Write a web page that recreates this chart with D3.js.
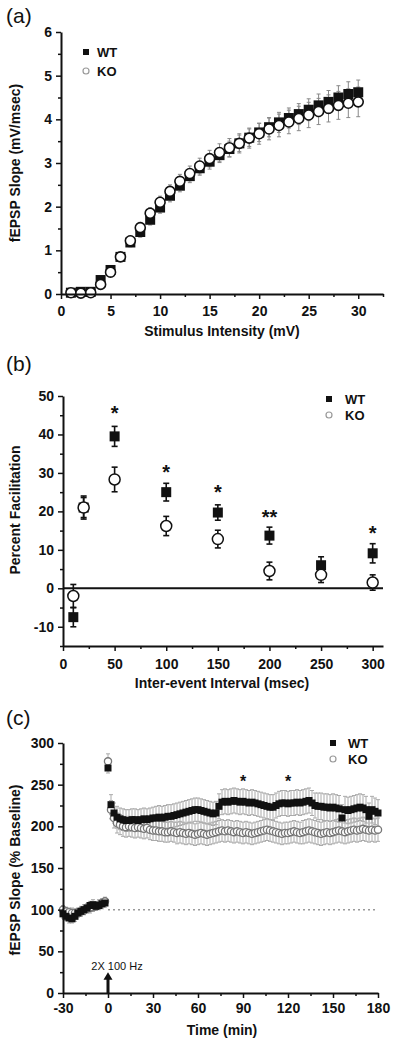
<!DOCTYPE html>
<html><head><meta charset="utf-8">
<script src="https://cdn.jsdelivr.net/npm/d3@7/dist/d3.min.js"></script>
<style>
body{margin:0;background:#fff;}
svg{display:block;font-family:"Liberation Sans",Arial,sans-serif;}
</style></head><body>
<svg id="fig" width="400" height="1042"></svg>
<script>
// ---------- Panel (a) data ----------
const aIntensity = [1,2,3,4,5,6,7,8,9,10,11,12,13,14,15,16,17,18,19,20,21,22,23,24,25,26,27,28,29,30];
const aWT    = [0.03,0.05,0.05,0.32,0.55,0.85,1.18,1.42,1.70,1.98,2.25,2.48,2.70,2.88,3.03,3.18,3.32,3.45,3.58,3.70,3.82,3.93,4.03,4.12,4.22,4.32,4.40,4.50,4.58,4.62];
const aWTerr = [0.02,0.03,0.03,0.06,0.08,0.10,0.10,0.12,0.12,0.13,0.14,0.14,0.15,0.16,0.17,0.17,0.18,0.19,0.20,0.21,0.22,0.23,0.23,0.24,0.25,0.26,0.26,0.27,0.28,0.28];
const aKO    = [0.03,0.02,0.03,0.22,0.50,0.85,1.22,1.52,1.85,2.10,2.35,2.58,2.76,2.93,3.10,3.24,3.35,3.45,3.57,3.67,3.78,3.86,3.94,4.02,4.10,4.18,4.25,4.32,4.37,4.40];
const aKOerr = [0.02,0.03,0.03,0.06,0.08,0.10,0.11,0.12,0.13,0.14,0.15,0.16,0.17,0.18,0.19,0.20,0.21,0.22,0.23,0.24,0.25,0.26,0.27,0.28,0.29,0.30,0.31,0.32,0.33,0.34];
const aXTicks = [0,5,10,15,20,25,30];
const aXMinor = [2.5,7.5,12.5,17.5,22.5,27.5,32.5];
const aYTicks = [0,1,2,3,4,5,6];
const aYMinor = [0.5,1.5,2.5,3.5,4.5,5.5];

// ---------- Panel (b) data ----------
const bInterval = [10,20,50,100,150,200,250,300];
const bWT    = [-7.5,21.0,39.5,25.0,19.7,13.7,6.0,9.1];
const bWTerr = [2.5,2.6,2.6,2.3,2.0,2.2,2.2,2.5];
const bKO    = [-2.0,21.0,28.3,16.2,12.8,4.5,3.5,1.5];
const bKOerr = [3.0,3.0,3.2,2.5,2.3,2.3,2.0,2.0];
const bStars = [{x:50,y:46.7,t:"*"},{x:100,y:31.3,t:"*"},{x:150,y:26,t:"*"},{x:200,y:19.5,t:"**"},{x:300,y:15.5,t:"*"}];
const bXTicks = [0,50,100,150,200,250,300];
const bXMinor = [25,75,125,175,225,275];
const bYTicks = [-10,0,10,20,30,40,50];
const bYMinor = [-15,-5,5,15,25,35,45];

// ---------- Panel (c) data ----------
const cTime = [-30,-28,-26,-24,-22,-20,-18,-16,-14,-12,-10,-8,-6,-4,-2,
  0,2,4,6,8,10,12,14,16,18,20,22,24,26,28,30,32,34,36,38,40,42,44,46,48,50,52,54,56,58,
  60,62,64,66,68,70,72,74,76,78,80,82,84,86,88,90,92,94,96,98,100,102,104,106,108,110,112,114,116,118,
  120,122,124,126,128,130,132,134,136,138,140,142,144,146,148,150,152,154,156,158,160,162,164,166,168,170,172,174,176,178,180];
const cWT = [95,92,90,89,92,96,98,100,102,105,106,104,105,107,108,
  270,226,216,211,209,208,207,207,208,208,
  207,208,209,208,209,210,210,211,210,211,
  212,212,213,214,215,216,217,218,219,220,
  220,219,218,217,216,215,216,224,229,230,
  229,230,231,230,229,230,229,228,229,228,
  227,226,225,224,223,223,225,227,228,228,
  227,228,228,229,228,229,230,231,228,225,
  224,224,223,223,222,223,222,221,210,220,
  219,220,221,222,223,222,220,212,220,218,
  216];
const cWTerr = [5,5,6,5,6,5,5,6,5,5,6,5,5,6,5,
  6,12,12,13,13,13,13,13,13,13,
  13,13,13,13,13,13,14,14,14,14,
  14,14,14,14,14,14,14,14,14,14,
  14,14,14,14,14,14,14,15,15,15,
  15,15,15,15,15,15,15,15,15,15,
  15,15,15,15,15,15,15,15,15,15,
  15,15,15,15,15,15,15,15,15,15,
  16,16,16,16,16,16,16,16,16,16,
  16,16,16,16,16,16,16,16,16,16,
  16];
const cKO = [100,98,97,96,96,97,98,99,101,102,103,104,106,108,110,
  278,220,210,204,202,200,199,200,199,198,
  199,198,197,198,196,195,195,194,194,193,
  193,194,193,192,193,192,191,192,191,190,
  191,192,191,190,191,192,193,194,195,194,
  195,194,193,194,193,192,193,192,191,192,
  193,194,195,196,195,194,193,192,191,192,
  192,193,194,193,192,193,194,195,194,193,
  192,191,192,193,192,193,194,195,194,193,
  194,195,196,195,196,197,196,195,196,195,
  196];
const cKOerr = [5,5,5,6,5,5,6,5,5,6,5,5,6,5,5,
  9,11,12,12,12,12,12,12,12,12,
  12,12,12,12,12,12,12,12,12,12,
  12,12,12,13,13,13,13,13,13,13,
  13,13,13,13,13,13,13,13,13,13,
  13,13,13,13,13,13,13,13,13,13,
  13,13,13,13,13,13,13,13,13,13,
  13,13,13,13,13,14,14,14,14,14,
  14,14,14,14,14,14,14,14,14,14,
  14,14,14,14,14,14,14,14,14,14,
  14];
const cStars = [{x:90,y:258},{x:120,y:258}];
const cXTicks = [-30,0,30,60,90,120,150,180];
const cXMinor = [-15,15,45,75,105,135,165];
const cYTicks = [0,50,100,150,200,250,300];
const cYMinor = [25,75,125,175,225,275];

const svg = d3.select("#fig");
const fmt = d => String(d);

function drawAxes(x, y, o) {
  const g = svg.append("g");
  const y0 = y.range()[0], x0 = x.range()[0];
  g.append("g").attr("transform", `translate(0,${y0})`)
    .call(d3.axisBottom(x).tickValues(o.xMinor).tickSize(3).tickFormat(""))
    .call(s => s.select(".domain").remove());
  g.append("g").attr("transform", `translate(${x0},0)`)
    .call(d3.axisLeft(y).tickValues(o.yMinor).tickSize(3).tickFormat(""))
    .call(s => s.select(".domain").remove());
  g.append("g").attr("transform", `translate(0,${y0})`)
    .call(d3.axisBottom(x).tickValues(o.xTicks).tickFormat(fmt).tickSize(5).tickSizeOuter(0).tickPadding(o.xPad));
  g.append("g").attr("transform", `translate(${x0},0)`)
    .call(d3.axisLeft(y).tickValues(o.yTicks).tickFormat(fmt).tickSize(5).tickSizeOuter(0).tickPadding(4));
  g.selectAll(".tick line").attr("stroke", "#111").attr("stroke-width", 1.5);
  g.selectAll(".domain").attr("stroke", "#111").attr("stroke-width", 2);
  g.selectAll(".tick text").attr("font-size", 14).attr("font-weight", "bold")
    .attr("font-family", '"Liberation Sans",Arial,sans-serif').attr("fill", "#111");
  svg.append("text").attr("x", o.xtX).attr("y", o.xtY).attr("text-anchor", "middle")
    .attr("font-size", 14).attr("font-weight", "bold").attr("fill", "#111").text(o.xTitle);
  svg.append("text").attr("transform", `translate(20,${o.ytY}) rotate(-90)`).attr("text-anchor", "middle")
    .attr("font-size", 14).attr("font-weight", "bold").attr("fill", "#111").text(o.yTitle);
  svg.append("text").attr("x", 6).attr("y", o.labY).attr("font-size", 21).attr("fill", "#111").text(o.label);
}

function errBars(g, xs, ys, es, x, y, cap, color, w) {
  const gg = g.append("g").attr("stroke", color).attr("stroke-width", w);
  xs.forEach((xv, i) => {
    const px = x(xv), top = y(ys[i] + es[i]), bot = y(ys[i] - es[i]);
    gg.append("line").attr("x1", px).attr("x2", px).attr("y1", top).attr("y2", bot);
    gg.append("line").attr("x1", px - cap).attr("x2", px + cap).attr("y1", top).attr("y2", top);
    gg.append("line").attr("x1", px - cap).attr("x2", px + cap).attr("y1", bot).attr("y2", bot);
  });
}
function squares(g, xs, ys, x, y, s, fill) {
  g.append("g").selectAll("rect").data(xs).join("rect")
    .attr("x", (d) => x(d) - s / 2).attr("y", (d, i) => y(ys[i]) - s / 2)
    .attr("width", s).attr("height", s).attr("fill", fill);
}
function circles(g, xs, ys, x, y, r, stroke, sw) {
  g.append("g").selectAll("circle").data(xs).join("circle")
    .attr("cx", (d) => x(d)).attr("cy", (d, i) => y(ys[i])).attr("r", r)
    .attr("fill", "#fff").attr("stroke", stroke).attr("stroke-width", sw);
}
function legend(lx, ly, gap, sq, r, cstroke, tx) {
  svg.append("rect").attr("x", lx - sq / 2).attr("y", ly - sq / 2).attr("width", sq).attr("height", sq).attr("fill", "#111");
  svg.append("circle").attr("cx", lx).attr("cy", ly + gap).attr("r", r).attr("fill", "#fff").attr("stroke", cstroke).attr("stroke-width", 1.2);
  svg.append("text").attr("x", tx).attr("y", ly + 5).attr("font-size", 13).attr("font-weight", "bold").attr("fill", "#111").text("WT");
  svg.append("text").attr("x", tx).attr("y", ly + gap + 5).attr("font-size", 13).attr("font-weight", "bold").attr("fill", "#111").text("KO");
}

// ================= Panel (a) =================
{
  const x = d3.scaleLinear().domain([0, 32.5]).range([61, 383]);
  const y = d3.scaleLinear().domain([0, 6]).range([294, 32]);
  const g = svg.append("g");
  errBars(g, aIntensity, aWT, aWTerr, x, y, 2, "#888", 1);
  errBars(g, aIntensity, aKO, aKOerr, x, y, 2, "#888", 1);
  squares(g, aIntensity, aWT, x, y, 10, "#111");
  circles(g, aIntensity, aKO, x, y, 5, "#111", 1.6);
  drawAxes(x, y, {xTicks: aXTicks, xMinor: aXMinor, yTicks: aYTicks, yMinor: aYMinor, xPad: 7,
    xTitle: "Stimulus Intensity (mV)", xtX: 222, xtY: 336, yTitle: "fEPSP Slope (mV/msec)", ytY: 163,
    label: "(a)", labY: 23});
  legend(86, 52, 19, 6, 3, "#999", 97);
}

// ================= Panel (b) =================
{
  const x = d3.scaleLinear().domain([0, 310]).range([63, 383]);
  const y = d3.scaleLinear().domain([-15, 50]).range([646, 396]);
  const g = svg.append("g");
  g.append("line").attr("x1", x(0)).attr("x2", x(310)).attr("y1", y(0)).attr("y2", y(0))
    .attr("stroke", "#111").attr("stroke-width", 2);
  errBars(g, bInterval, bWT, bWTerr, x, y, 3, "#111", 1.6);
  errBars(g, bInterval, bKO, bKOerr, x, y, 3, "#111", 1.6);
  squares(g, bInterval, bWT, x, y, 10, "#111");
  circles(g, bInterval, bKO, x, y, 5.5, "#111", 1.5);
  g.append("g").selectAll("text").data(bStars).join("text")
    .attr("x", d => x(d.x)).attr("y", d => y(d.y) + 11).attr("text-anchor", "middle")
    .attr("font-size", 20).attr("font-weight", "bold").attr("fill", "#111").text(d => d.t);
  drawAxes(x, y, {xTicks: bXTicks, xMinor: bXMinor, yTicks: bYTicks, yMinor: bYMinor, xPad: 8,
    xTitle: "Inter-event Interval (msec)", xtX: 222, xtY: 688, yTitle: "Percent Facilitation", ytY: 510,
    label: "(b)", labY: 371});
  legend(329, 399, 16, 6, 3, "#999", 345);
}

// ================= Panel (c) =================
{
  const x = d3.scaleLinear().domain([-30, 180]).range([63, 378]);
  const y = d3.scaleLinear().domain([0, 300]).range([993, 743]);
  const g = svg.append("g");
  g.append("line").attr("x1", x(0)).attr("x2", x(180)).attr("y1", y(100)).attr("y2", y(100))
    .attr("stroke", "#999").attr("stroke-width", 1.5).attr("stroke-dasharray", "2,3");
  errBars(g, cTime, cKO, cKOerr, x, y, 2, "#aaa", 1);
  errBars(g, cTime, cWT, cWTerr, x, y, 2, "#aaa", 1);
  circles(g, cTime, cKO, x, y, 3.6, "#777", 1.3);
  squares(g, cTime, cWT, x, y, 7, "#111");
  g.append("g").selectAll("text").data(cStars).join("text")
    .attr("x", d => x(d.x)).attr("y", d => y(d.y) + 9).attr("text-anchor", "middle")
    .attr("font-size", 16).attr("font-weight", "bold").attr("fill", "#111").text("*");
  const ax = x(0);
  const arrow = d3.path();
  arrow.moveTo(ax - 1.5, y(0)); arrow.lineTo(ax - 1.5, y(16)); arrow.lineTo(ax - 4.5, y(16));
  arrow.lineTo(ax, y(25)); arrow.lineTo(ax + 4.5, y(16)); arrow.lineTo(ax + 1.5, y(16));
  arrow.lineTo(ax + 1.5, y(0)); arrow.closePath();
  g.append("path").attr("d", arrow.toString()).attr("fill", "#111");
  g.append("text").attr("x", x(6)).attr("y", 970).attr("text-anchor", "middle")
    .attr("font-size", 11).attr("fill", "#111").text("2X 100 Hz");
  drawAxes(x, y, {xTicks: cXTicks, xMinor: cXMinor, yTicks: cYTicks, yMinor: cYMinor, xPad: 5,
    xTitle: "Time (min)", xtX: 222, xtY: 1035, yTitle: "fEPSP Slope (% Baseline)", ytY: 870,
    label: "(c)", labY: 725});
  legend(333, 743, 16, 6, 3, "#999", 348);
}
</script>
</body></html>
